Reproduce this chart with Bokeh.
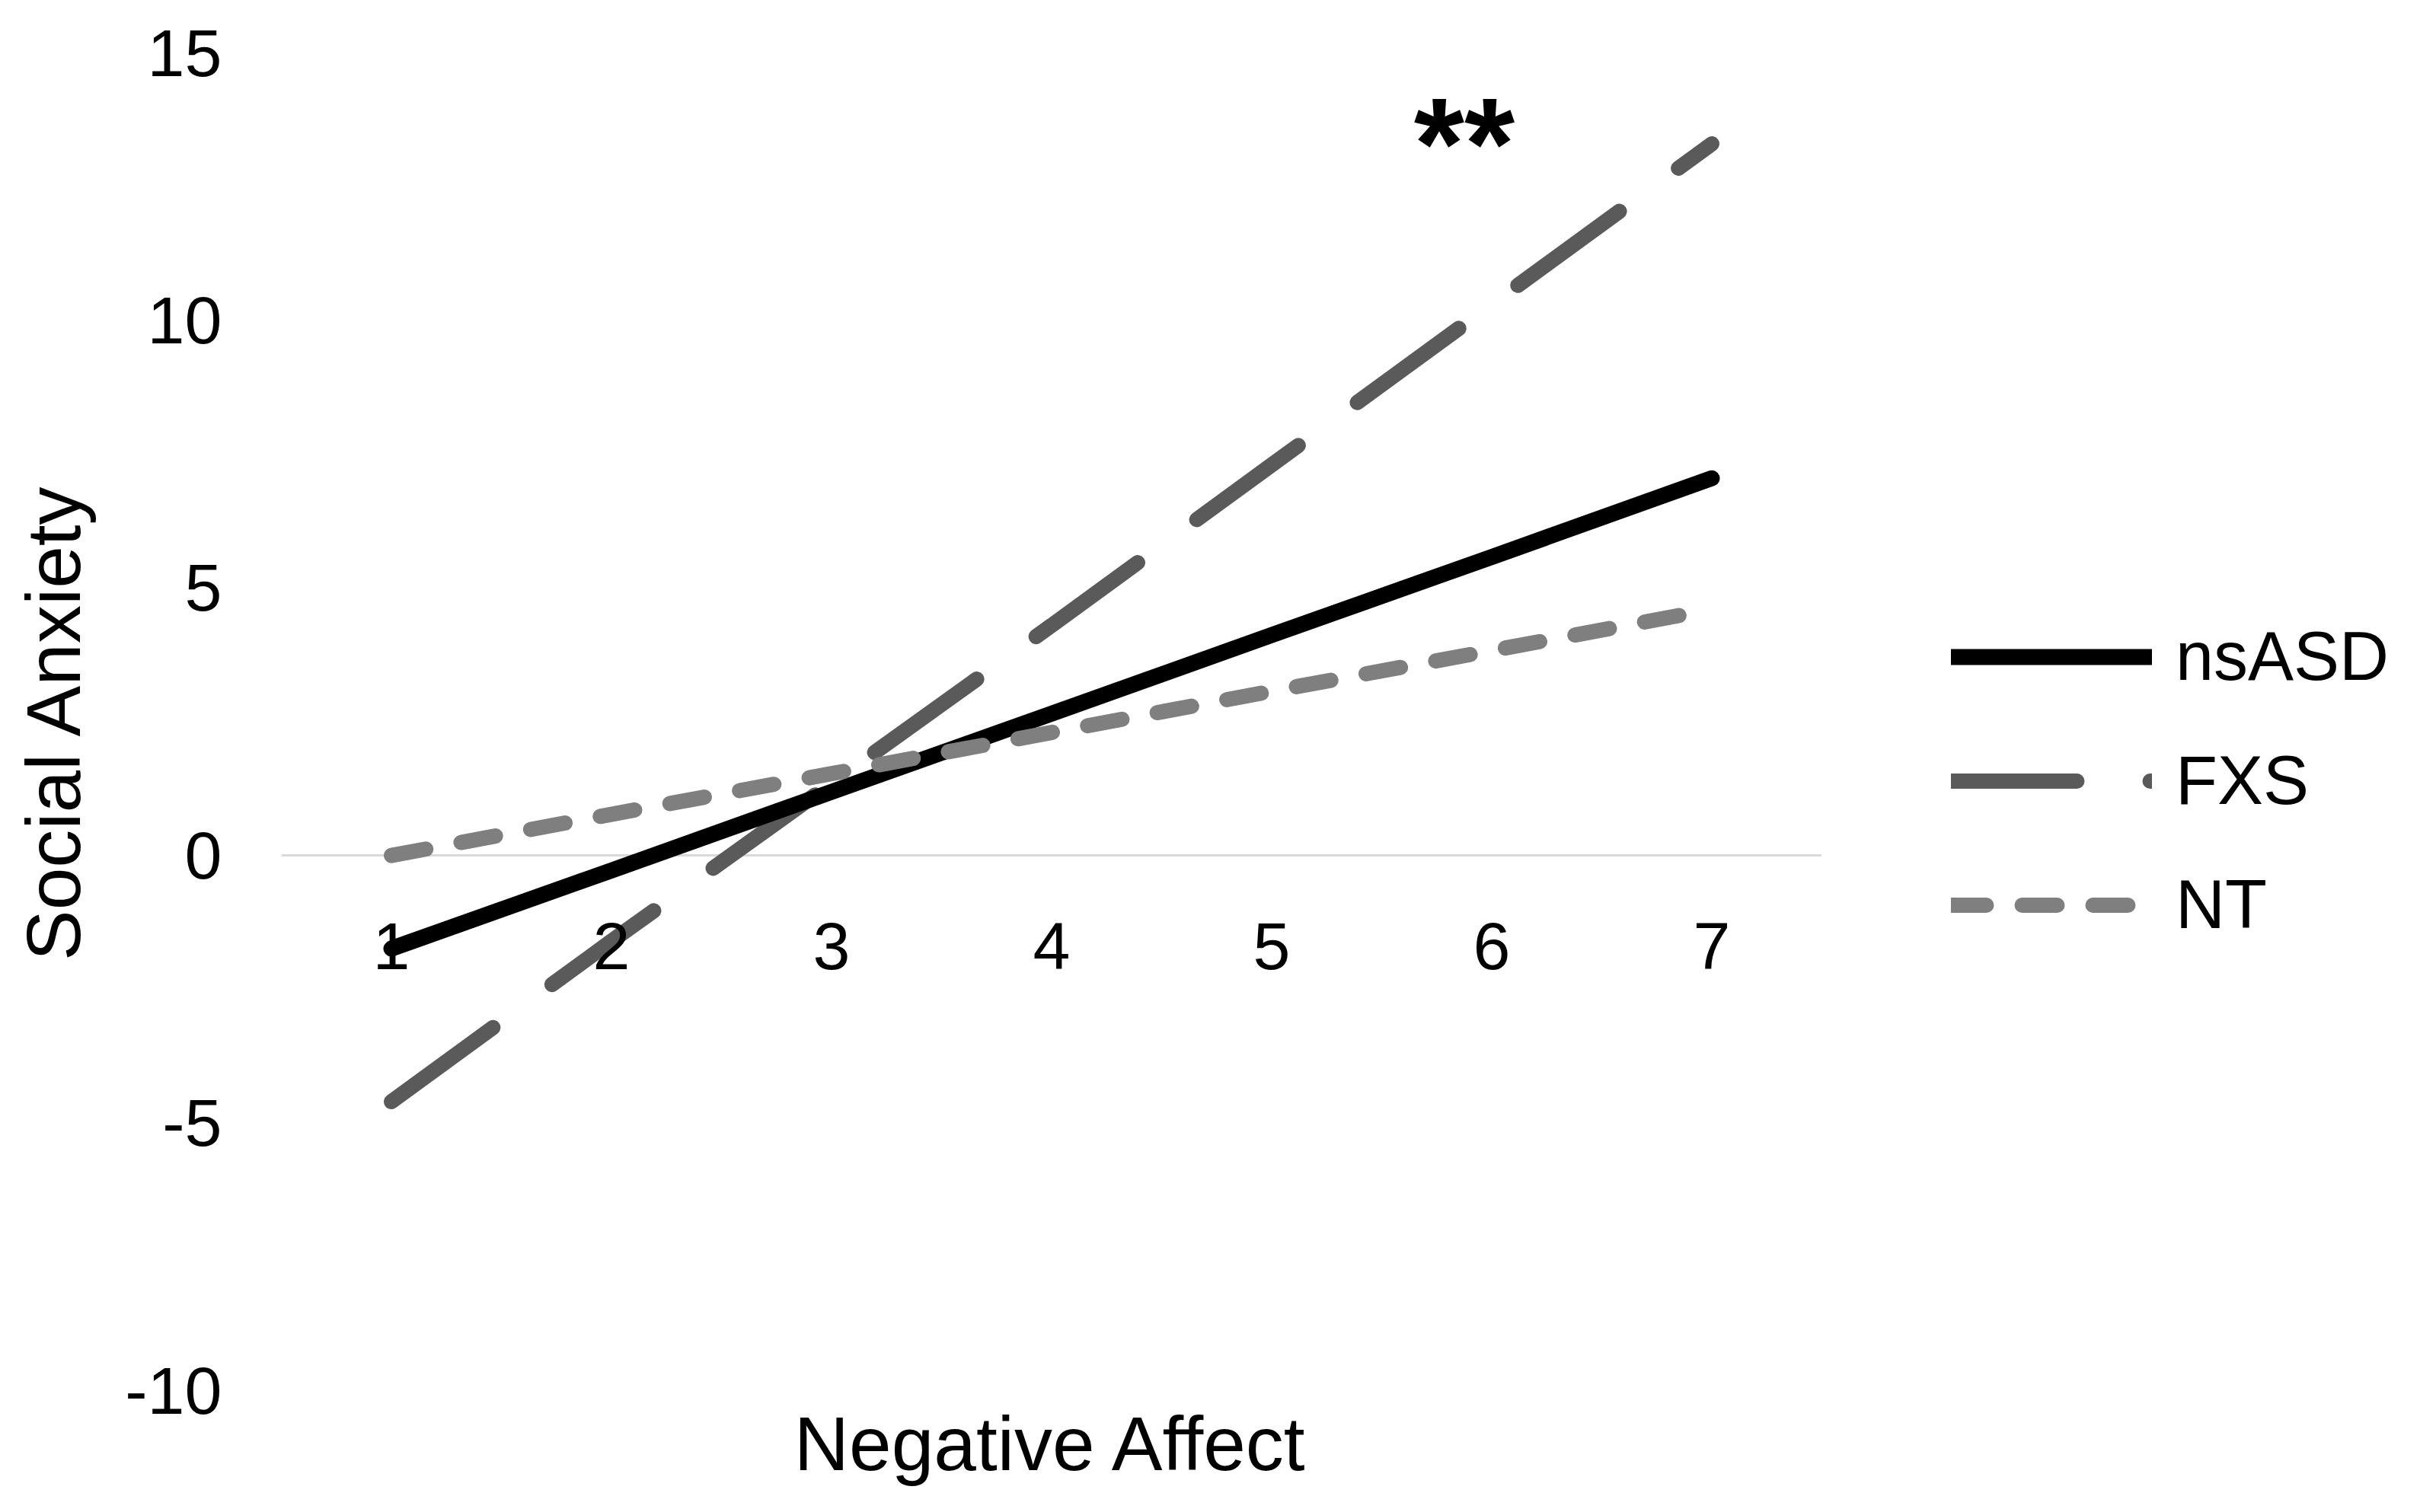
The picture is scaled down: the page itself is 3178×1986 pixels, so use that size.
from bokeh.plotting import figure
from bokeh.layouts import row
from bokeh.models import (FactorRange, Range1d, FixedTicker, Title,
                          Legend, LegendItem, ColumnDataSource,
                          CustomJSTickFormatter)
from bokeh.embed import file_html
from bokeh.resources import INLINE
from bokeh.core.properties import value

# ---- data ----
negative_affect = ["1", "2", "3", "4", "5", "6", "7"]
nsASD = [-1.74, -0.28, 1.19, 2.65, 4.12, 5.58, 7.05]
FXS = [-4.6, -1.6, 1.35, 4.3, 7.3, 10.3, 13.3]
NT = [0.0, 0.77, 1.53, 2.3, 3.07, 3.83, 4.6]
y_ticks = [-10, -5, 0, 5, 10, 15]
series_names = ["nsASD", "FXS", "NT"]
sig_label = "**"

FONT = "Liberation Sans"
styles = {
    "nsASD": dict(line_color="black", line_width=21, line_cap="round"),
    "FXS": dict(line_color="#5a5a5a", line_width=20, line_dash="165 96",
                line_cap="round"),
    "NT": dict(line_color="#7f7f7f", line_width=20, line_dash="46 47",
               line_cap="round"),
}

p = figure(
    x_range=FactorRange(factors=negative_affect),
    y_range=Range1d(-10, 15),
    width=2392, height=1970,
    min_border_left=369, min_border_right=0,
    min_border_top=69, min_border_bottom=144,
    output_backend="svg", toolbar_location=None,
    background_fill_color="white", border_fill_color="white",
)
p.outline_line_color = None

# grid: only the zero line
p.xgrid.visible = False
p.ygrid.ticker = FixedTicker(ticks=[0])
p.ygrid.grid_line_color = "#d9d9d9"
p.ygrid.grid_line_width = 3

# y axis
yax = p.yaxis[0]
yax.ticker = FixedTicker(ticks=y_ticks)
yax.formatter = CustomJSTickFormatter(code="return tick.toString();")
yax.axis_line_color = None
yax.major_tick_line_color = None
yax.minor_tick_line_color = None
yax.major_tick_out = 0
yax.major_label_standoff = 78
yax.major_label_text_font = FONT
yax.major_label_text_font_size = "88px"
yax.major_label_text_color = "black"
yax.axis_label = "Social Anxiety"
yax.axis_label_text_font = FONT
yax.axis_label_text_font_size = "100px"
yax.axis_label_text_font_style = "normal"
yax.axis_label_text_color = "black"
yax.axis_label_standoff = 35

# x axis with tick labels crossing at y = 0
xax = p.xaxis[0]
xax.fixed_location = 0
xax.axis_line_color = None
xax.major_tick_line_color = None
xax.minor_tick_line_color = None
xax.major_tick_out = 0
xax.major_label_standoff = 89
xax.major_label_text_font = FONT
xax.major_label_text_font_size = "88px"
xax.major_label_text_color = "black"

# x axis title at the bottom
p.add_layout(Title(text="Negative Affect", align="center",
                   text_font=FONT, text_font_size="100px",
                   text_font_style="normal", text_color="black",
                   standoff=27, vertical_align="top"), "below")

src = ColumnDataSource(dict(x=negative_affect, nsASD=nsASD, FXS=FXS, NT=NT))

r_fxs = p.line("x", "FXS", source=src, **styles["FXS"])
r_ns = p.line("x", "nsASD", source=src, **styles["nsASD"])
r_nt = p.line("x", "NT", source=src, **styles["NT"])

# significance marker above the FXS line
p.text(x=[negative_affect[5]], y=[13.3], text=[sig_label], x_offset=-36,
       text_align="center", text_baseline="middle",
       text_font=value(FONT), text_font_size="170px",
       text_font_style="bold", text_color="black")

# ---- legend panel to the right of the plot area ----
# the legend's sample renderers use the same series, on a view where
# the lines themselves fall outside the visible area
lg = figure(x_range=FactorRange(factors=negative_affect),
            y_range=Range1d(100, 101),
            width=768, height=1970, min_border=0,
            x_axis_location=None, y_axis_location=None,
            output_backend="svg", toolbar_location=None,
            background_fill_color="white", border_fill_color="white")
lg.outline_line_color = None
lg.grid.visible = False
items = []
for name in series_names:
    r = lg.line("x", name, source=src, **styles[name])
    items.append(LegendItem(label=name, renderers=[r]))

legend = Legend(
    items=items,
    location=(170, 556),
    orientation="vertical",
    glyph_width=264, glyph_height=163,
    label_height=163, label_standoff=31, spacing=0,
    padding=0, margin=0,
    label_text_font=FONT, label_text_font_size="90px",
    label_text_color="black",
    border_line_color=None, background_fill_alpha=0,
)
lg.add_layout(legend, "center")

layout = row(p, lg, spacing=0)
open("out.html", "w").write(file_html(layout, INLINE))
